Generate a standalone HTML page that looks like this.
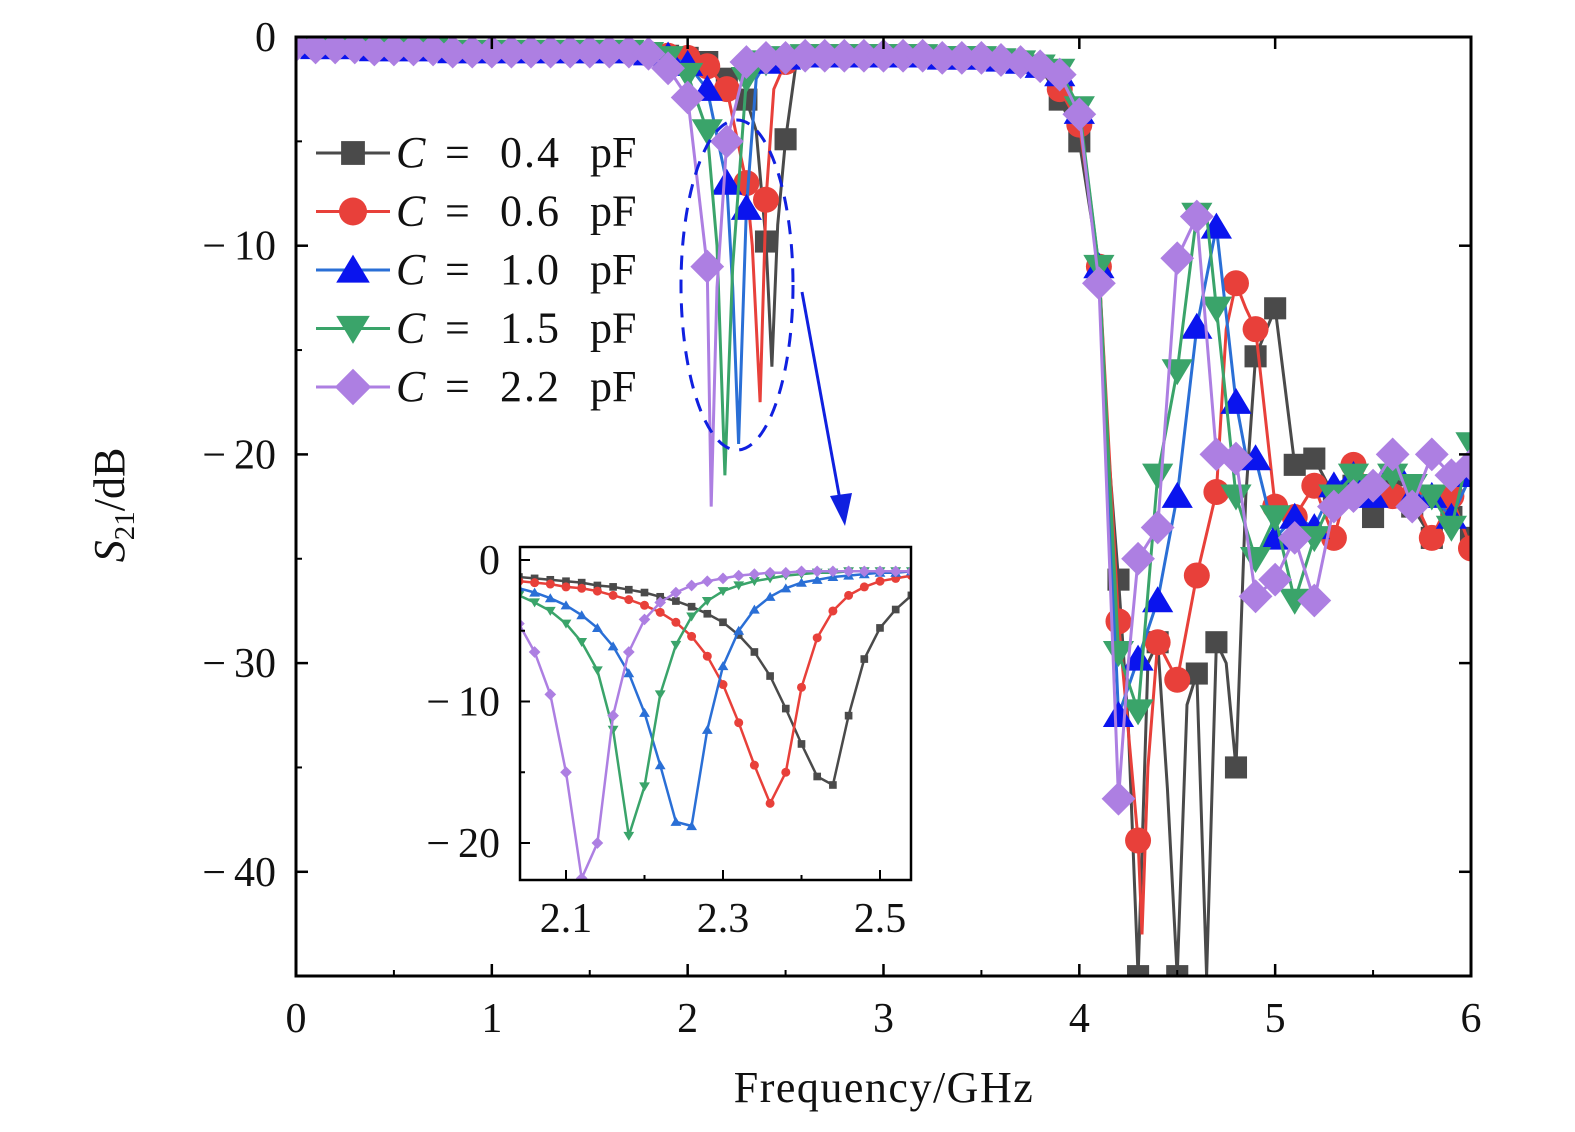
<!DOCTYPE html>
<html><head><meta charset="utf-8"><style>
html,body{margin:0;padding:0;background:#fff;width:1575px;height:1132px;overflow:hidden}
svg text{font-family:"Liberation Serif",serif;fill:#111}
</style></head><body>
<svg id="chart" width="1575" height="1132" xmlns="http://www.w3.org/2000/svg"></svg>
<script>
const seriesNames=["C = 0.4 pF","C = 0.6 pF","C = 1.0 pF","C = 1.5 pF","C = 2.2 pF"];
const seriesValues=["0.4","0.6","1.0","1.5","2.2"];
const xTicks=[0,1,2,3,4,5,6];
const yTicks=[0,-10,-20,-30,-40];
const insetXTicks=[2.1,2.3,2.5];
const insetYTicks=[0,-10,-20];
const flatF=[0,0.1,0.2,0.3,0.4,0.5,0.6,0.7,0.8,0.9,1.0,1.1,1.2,1.3,1.4,1.5,1.6,1.7,1.8];
const flatV=[-0.4,-0.5,-0.5,-0.5,-0.6,-0.6,-0.6,-0.6,-0.7,-0.7,-0.7,-0.7,-0.7,-0.7,-0.7,-0.7,-0.7,-0.7,-0.8];
const midF=[2.6,2.7,2.8,2.9,3.0,3.1,3.2,3.3,3.4,3.5,3.6,3.7,3.8];
const midV=[-0.9,-0.9,-0.9,-0.9,-0.9,-0.9,-0.9,-1.0,-1.0,-1.0,-1.1,-1.2,-1.4];
const blackF=[1.9,2.0,2.1,2.2,2.3,2.35,2.4,2.43,2.46,2.5,2.55,3.9,4.0,4.1,4.15,4.2,4.25,4.3,4.35,4.4,4.45,4.5,4.55,4.6,4.65,4.7,4.75,4.8,4.85,4.9,5.0,5.1,5.2,5.3,5.4,5.5,5.6,5.7,5.8,5.9,6.0];
const blackV=[-0.9,-1.0,-1.2,-2.0,-3.0,-4.5,-9.8,-15.8,-9,-4.9,-1.5,-3.0,-5.0,-11,-20,-26,-33,-45,-30,-29,-36,-45,-32,-30.5,-45,-29,-30,-35,-22,-15.3,-13,-20.5,-20.2,-22,-21.5,-23,-21,-22.5,-24,-23,-24];
const redF=[1.9,2.0,2.1,2.2,2.3,2.33,2.37,2.4,2.44,2.5,2.55,3.9,4.0,4.1,4.2,4.3,4.32,4.35,4.4,4.5,4.6,4.7,4.75,4.8,4.85,4.9,5.0,5.1,5.2,5.3,5.4,5.5,5.6,5.7,5.8,5.9,6.0];
const redV=[-0.9,-1.0,-1.4,-2.5,-7,-10,-17.5,-7.8,-2.5,-1.2,-1.0,-2.5,-4.2,-11,-28,-38.5,-43,-35,-29,-30.8,-25.8,-21.8,-14,-11.8,-13,-14,-22.5,-23,-21.5,-24,-20.5,-21.5,-22,-22,-24,-22,-24.5];
const blueF=[1.9,2.0,2.1,2.2,2.23,2.26,2.3,2.35,2.4,2.5,3.9,4.0,4.1,4.2,4.3,4.4,4.5,4.6,4.7,4.8,4.85,4.9,5.0,5.1,5.2,5.3,5.4,5.5,5.6,5.7,5.8,5.9,6.0];
const blueV=[-0.9,-1.3,-2.5,-7,-12,-19.5,-8.2,-2,-1.2,-1.0,-1.8,-3.6,-11,-32.5,-29.8,-27,-22,-13.9,-9.1,-17.5,-20,-20.2,-24,-23,-23.5,-21.5,-21,-22,-20.5,-22,-22,-23,-21];
const greenF=[1.9,2.0,2.1,2.15,2.19,2.23,2.3,2.4,2.5,3.9,4.0,4.1,4.2,4.3,4.4,4.5,4.6,4.65,4.7,4.8,4.9,5.0,5.1,5.2,5.3,5.4,5.5,5.6,5.7,5.8,5.9,6.0];
const greenV=[-1.0,-1.8,-4.5,-10,-21,-11,-2,-1.2,-1.0,-1.6,-3.4,-11,-29.5,-32.3,-21,-16,-8.5,-8.5,-13,-22,-25,-23,-27,-24,-22,-21,-21.5,-21,-21.5,-22,-23.5,-19.5];
const purpleF=[1.9,2.0,2.1,2.12,2.15,2.2,2.3,2.4,2.5,3.9,4.0,4.1,4.2,4.25,4.3,4.4,4.5,4.6,4.7,4.8,4.9,5.0,5.1,5.2,5.3,5.4,5.5,5.6,5.7,5.8,5.9,6.0];
const purpleV=[-1.5,-2.9,-11,-22.5,-12,-5.0,-1.2,-1.0,-1.0,-1.8,-3.7,-11.8,-36.5,-30,-25,-23.5,-10.6,-8.6,-20,-20.2,-26.8,-26,-24,-27,-22.5,-22,-21.5,-20,-22.5,-20,-21,-20.5];
const insetF=[2.04,2.06,2.08,2.10,2.12,2.14,2.16,2.18,2.20,2.22,2.24,2.26,2.28,2.30,2.32,2.34,2.36,2.38,2.40,2.42,2.44,2.46,2.48,2.50,2.52,2.54];
const insetBlack=[-1.2,-1.3,-1.4,-1.5,-1.6,-1.8,-1.9,-2.1,-2.3,-2.6,-2.9,-3.3,-3.8,-4.4,-5.3,-6.5,-8.2,-10.5,-13,-15.3,-15.9,-11,-7,-4.8,-3.5,-2.5];
const insetRed=[-1.5,-1.6,-1.7,-1.9,-2.0,-2.2,-2.5,-2.8,-3.2,-3.7,-4.4,-5.4,-6.8,-8.8,-11.5,-14.5,-17.2,-15,-9,-5.5,-3.6,-2.5,-1.9,-1.5,-1.3,-1.1];
const insetBlue=[-2.0,-2.3,-2.7,-3.2,-3.9,-4.8,-6.1,-8.0,-10.8,-14.5,-18.5,-18.8,-12,-7.5,-5,-3.5,-2.6,-2.0,-1.6,-1.4,-1.2,-1.1,-1.0,-0.9,-0.9,-0.8];
const insetGreen=[-2.5,-3.0,-3.6,-4.5,-5.8,-7.8,-12,-19.5,-16,-9.5,-6,-4,-2.9,-2.2,-1.8,-1.5,-1.3,-1.1,-1.0,-0.9,-0.9,-0.8,-0.8,-0.8,-0.8,-0.8];
const insetPurple=[-4.5,-6.5,-9.5,-15,-22.5,-20,-11,-6.5,-4.2,-3,-2.3,-1.8,-1.5,-1.3,-1.1,-1.0,-0.9,-0.9,-0.8,-0.8,-0.8,-0.8,-0.8,-0.8,-0.8,-0.8];

const NS="http://www.w3.org/2000/svg";
const svg=document.getElementById('chart');
function mk(tag,attrs,parent){const e=document.createElementNS(NS,tag);for(const k in attrs)e.setAttribute(k,attrs[k]);(parent||svg).appendChild(e);return e;}
const X=f=>296+f*195.83, Y=v=>37-v*20.87;
const IX=f=>566+(f-2.1)*785, IY=v=>560-v*14.15;
const styles=[{line:"#4a4a4a",fill:"#4a4a4a",m:"sq"},{line:"#e8403a",fill:"#e8403a",m:"ci"},{line:"#2a6fd6",fill:"#0a14ee",m:"tu"},{line:"#3aa46a",fill:"#3aa46a",m:"td"},{line:"#ad7fe2",fill:"#ad7fe2",m:"di"}];
function marker(g,type,x,y,s,fill){
 let e;
 if(type==="sq")e=mk('rect',{x:x-s*0.85,y:y-s*0.85,width:s*1.7,height:s*1.7,fill:fill},g);
 else if(type==="ci")e=mk('circle',{cx:x,cy:y,r:s,fill:fill},g);
 else if(type==="tu")e=mk('polygon',{points:`${x},${y-s*1.1} ${x-s*1.2},${y+s*0.9} ${x+s*1.2},${y+s*0.9}`,fill:fill},g);
 else if(type==="td")e=mk('polygon',{points:`${x},${y+s*1.1} ${x-s*1.2},${y-s*0.9} ${x+s*1.2},${y-s*0.9}`,fill:fill},g);
 else e=mk('polygon',{points:`${x},${y-s*1.3} ${x+s*1.3},${y} ${x},${y+s*1.3} ${x-s*1.3},${y}`,fill:fill},g);
 
 
}
const defs=mk('defs',{});
const cp=mk('clipPath',{id:'mainclip'},defs);mk('rect',{x:296,y:37,width:1175,height:939},cp);
const cp2=mk('clipPath',{id:'insclip'},defs);mk('rect',{x:520,y:547,width:391,height:333},cp2);

const mainF=[blackF,redF,blueF,greenF,purpleF], mainV=[blackV,redV,blueV,greenV,purpleV];
const onGrid=f=>Math.abs(f*10-Math.round(f*10))<1e-6;
for(let i=0;i<5;i++){
 const g=mk('g',{'clip-path':'url(#mainclip)'});
 
 
 const F=flatF.concat(mainF[i].filter(f=>f<2.6),midF,mainF[i].filter(f=>f>=3.85));
 const V=flatV.concat(mainV[i].filter((v,k)=>mainF[i][k]<2.6),midV,mainV[i].filter((v,k)=>mainF[i][k]>=3.85));
 const idx=F.map((f,k)=>k).sort((a,b)=>F[a]-F[b]);
 const pts=idx.map(k=>X(F[k]).toFixed(1)+","+Y(V[k]).toFixed(1)).join(" ");
 const pl=mk('polyline',{points:pts,fill:'none',stroke:styles[i].line,'stroke-width':3},g);
 
 
 idx.forEach(k=>{if(onGrid(F[k]))marker(g,styles[i].m,X(F[k]),Y(V[k]),13,styles[i].fill);});
}
const ax=mk('rect',{x:296,y:37,width:1175,height:939,fill:'none',stroke:'#000','stroke-width':3});

xTicks.forEach(t=>{mk('line',{x1:X(t),y1:976,x2:X(t),y2:964,stroke:'#000','stroke-width':2.5});mk('line',{x1:X(t),y1:37,x2:X(t),y2:49,stroke:'#000','stroke-width':2.5});
 if(t<6){mk('line',{x1:X(t+0.5),y1:976,x2:X(t+0.5),y2:970,stroke:'#000','stroke-width':2});}
 const tx=mk('text',{x:X(t),y:1032,'text-anchor':'middle','font-size':42});tx.textContent=t;
 });
yTicks.forEach(t=>{mk('line',{x1:296,y1:Y(t),x2:308,y2:Y(t),stroke:'#000','stroke-width':2.5});mk('line',{x1:1471,y1:Y(t),x2:1459,y2:Y(t),stroke:'#000','stroke-width':2.5});
 mk('line',{x1:296,y1:Y(t-5),x2:302,y2:Y(t-5),stroke:'#000','stroke-width':2});
 const tx=mk('text',{x:276,y:Y(t)+14,'text-anchor':'end','font-size':42});
 tx.innerHTML=t===0?"0":'<tspan>\u2212</tspan><tspan dx="8">'+Math.abs(t)+'</tspan>';
 });
let t=mk('text',{x:884,y:1102,'text-anchor':'middle','font-size':44,'letter-spacing':1.5});t.textContent="Frequency/GHz";

t=mk('text',{x:0,y:0,'text-anchor':'middle','font-size':44,transform:'translate(124,505) rotate(-90)'});
t.innerHTML='<tspan font-style="italic">S</tspan><tspan font-size="29" dy="10">21</tspan><tspan dy="-10">/dB</tspan>';

let el=mk('ellipse',{cx:737,cy:285,rx:56,ry:165,fill:'none',stroke:'#1020e0','stroke-width':3,'stroke-dasharray':'14,10'});

el=mk('line',{x1:802,y1:292,x2:840,y2:500,stroke:'#1020e0','stroke-width':3});

mk('polygon',{points:'845,526 830,496 852,493',fill:'#1020e0'});
seriesValues.forEach((n,i)=>{const y=153+i*58.5;const g=mk('g',{});
 
 mk('line',{x1:316,y1:y,x2:390,y2:y,stroke:styles[i].line,'stroke-width':3},g);
 marker(g,styles[i].m,353,y,14,styles[i].fill);
 const tx=mk('text',{x:396,y:y+14,'font-size':44},g);
 tx.innerHTML='<tspan font-style="italic">C</tspan><tspan x="445">=</tspan><tspan x="500" letter-spacing="2">'+n+'</tspan><tspan x="590">pF</tspan>';
});
const ig=mk('g',{});
mk('rect',{x:520,y:547,width:391,height:333,fill:'#fff'},ig);
const insV=[insetBlack,insetRed,insetBlue,insetGreen,insetPurple];
for(let i=0;i<5;i++){const g=mk('g',{'clip-path':'url(#insclip)'},ig);
 
 mk('polyline',{points:insetF.map((f,k)=>IX(f).toFixed(1)+","+IY(insV[i][k]).toFixed(1)).join(" "),fill:'none',stroke:styles[i].line,'stroke-width':2.5},g);
 insetF.forEach((f,k)=>marker(g,styles[i].m,IX(f),IY(insV[i][k]),4.5,styles[i].line));}
mk('rect',{x:520,y:547,width:391,height:333,fill:'none',stroke:'#000','stroke-width':2.5},ig);
insetXTicks.forEach(v=>{mk('line',{x1:IX(v),y1:880,x2:IX(v),y2:870,stroke:'#000','stroke-width':2},ig);
 if(v<2.5)mk('line',{x1:IX(v+0.1),y1:880,x2:IX(v+0.1),y2:875,stroke:'#000','stroke-width':2},ig);
 const tx=mk('text',{x:IX(v),y:932,'text-anchor':'middle','font-size':42},ig);tx.textContent=v.toFixed(1);
 });
insetYTicks.forEach(v=>{mk('line',{x1:520,y1:IY(v),x2:530,y2:IY(v),stroke:'#000','stroke-width':2},ig);
 if(v>-20)mk('line',{x1:520,y1:IY(v-5),x2:525,y2:IY(v-5),stroke:'#000','stroke-width':2},ig);
 const tx=mk('text',{x:500,y:IY(v)+14,'text-anchor':'end','font-size':42},ig);
 tx.innerHTML=v===0?"0":'<tspan>\u2212</tspan><tspan dx="8">'+Math.abs(v)+'</tspan>';
 });
</script>
</body></html>
